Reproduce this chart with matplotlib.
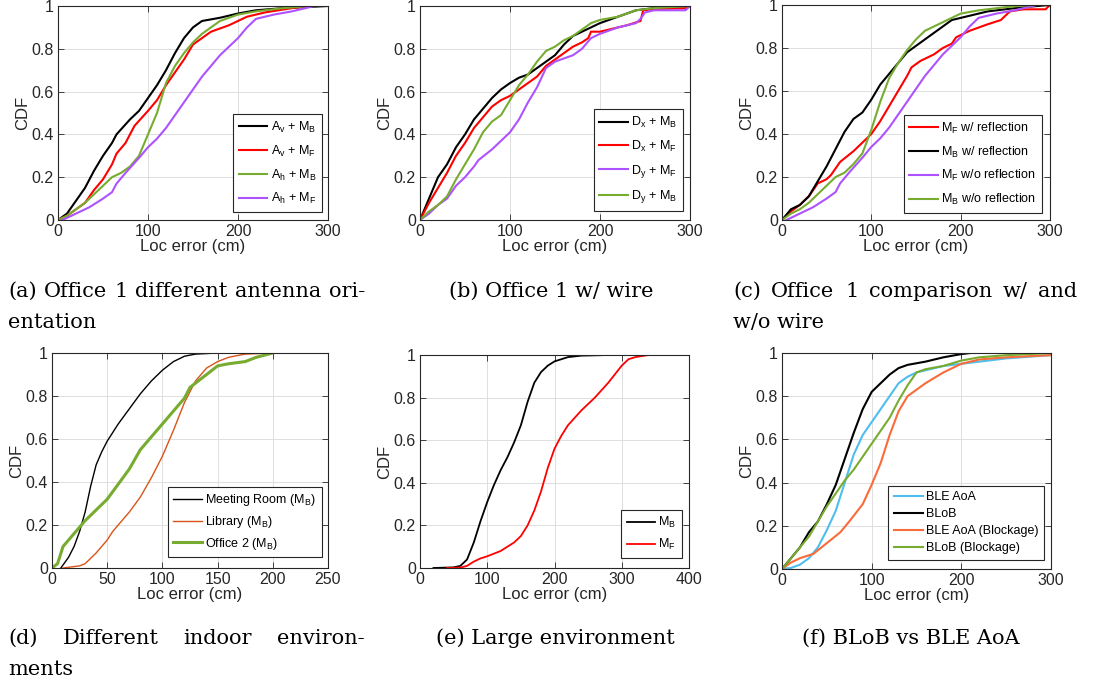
import numpy as np
import matplotlib
matplotlib.use('Agg')
from matplotlib import pyplot as plt

plt.rcParams['font.family'] = ['Liberation Sans', 'DejaVu Sans']
plt.rcParams['mathtext.fontset'] = 'custom'
plt.rcParams['mathtext.rm'] = 'Liberation Sans'
plt.rcParams['mathtext.it'] = 'Liberation Sans:italic'

BLACK = '#000000'
RED = '#FF0000'
GREEN = '#77AC30'
PURPLE = '#AE52FF'
ORANGE_D = '#D95319'
ORANGE_F = '#FA6B3A'
BLUE = '#4DBEEE'

# (a) Office 1 different antenna orientation
a_vb_x = [0, 10, 20, 30, 40, 50, 60, 65, 80, 90, 100, 110, 120, 130, 140, 150, 160, 180, 200, 220, 250, 300]
a_vb_y = [0, 0.03, 0.09, 0.15, 0.23, 0.30, 0.36, 0.40, 0.47, 0.51, 0.57, 0.63, 0.70, 0.78, 0.85, 0.90, 0.93, 0.945, 0.965, 0.98, 0.99, 1.0]
a_vf_x = [0, 10, 20, 30, 40, 50, 60, 65, 75, 85, 100, 110, 120, 130, 140, 150, 160, 170, 190, 200, 210, 230, 260, 280]
a_vf_y = [0, 0.02, 0.05, 0.08, 0.14, 0.19, 0.26, 0.31, 0.36, 0.44, 0.51, 0.56, 0.63, 0.69, 0.75, 0.82, 0.85, 0.88, 0.91, 0.93, 0.95, 0.97, 0.99, 1.0]
a_hb_x = [0, 10, 20, 30, 40, 50, 60, 70, 80, 90, 100, 110, 120, 130, 140, 150, 160, 170, 180, 200, 220, 250, 280]
a_hb_y = [0, 0.02, 0.05, 0.08, 0.12, 0.16, 0.20, 0.22, 0.25, 0.30, 0.40, 0.50, 0.64, 0.72, 0.78, 0.83, 0.87, 0.90, 0.93, 0.96, 0.975, 0.99, 1.0]
a_hf_x = [5, 15, 25, 35, 50, 60, 65, 75, 90, 100, 110, 120, 130, 140, 150, 160, 170, 180, 190, 200, 210, 220, 240, 260, 285]
a_hf_y = [0, 0.02, 0.04, 0.06, 0.10, 0.13, 0.17, 0.22, 0.29, 0.34, 0.38, 0.43, 0.49, 0.55, 0.61, 0.67, 0.72, 0.77, 0.81, 0.85, 0.90, 0.94, 0.96, 0.975, 1.0]

# (b) Office 1 w/ wire
b_xb_x = [0, 10, 20, 30, 40, 50, 60, 70, 80, 90, 100, 110, 120, 130, 140, 150, 160, 170, 180, 190, 200, 220, 240, 260, 300]
b_xb_y = [0, 0.10, 0.20, 0.26, 0.34, 0.40, 0.47, 0.52, 0.57, 0.61, 0.64, 0.665, 0.68, 0.71, 0.74, 0.77, 0.82, 0.86, 0.88, 0.90, 0.92, 0.95, 0.98, 0.99, 1.0]
b_xf_x = [0, 10, 20, 30, 40, 50, 60, 70, 80, 90, 100, 110, 120, 130, 140, 150, 160, 170, 180, 187, 190, 200, 210, 230, 245, 248, 260, 295, 300]
b_xf_y = [0, 0.08, 0.15, 0.22, 0.30, 0.36, 0.43, 0.48, 0.53, 0.56, 0.58, 0.61, 0.64, 0.67, 0.72, 0.75, 0.78, 0.81, 0.83, 0.85, 0.88, 0.88, 0.89, 0.91, 0.93, 0.98, 0.985, 0.99, 1.0]
b_yf_x = [0, 10, 20, 30, 40, 50, 60, 65, 80, 90, 100, 110, 120, 130, 140, 150, 170, 180, 190, 200, 220, 240, 245, 250, 260, 295, 300]
b_yf_y = [0, 0.03, 0.07, 0.10, 0.16, 0.20, 0.25, 0.28, 0.33, 0.37, 0.41, 0.47, 0.55, 0.62, 0.71, 0.74, 0.77, 0.80, 0.85, 0.87, 0.90, 0.92, 0.94, 0.97, 0.98, 0.98, 1.0]
b_yb_x = [0, 10, 20, 30, 40, 50, 60, 70, 80, 90, 100, 110, 120, 130, 140, 150, 160, 170, 180, 190, 200, 220, 240, 260, 300]
b_yb_y = [0, 0.04, 0.07, 0.11, 0.19, 0.26, 0.33, 0.41, 0.46, 0.49, 0.56, 0.63, 0.68, 0.74, 0.79, 0.81, 0.84, 0.86, 0.89, 0.92, 0.935, 0.95, 0.98, 0.99, 1.0]

# (c) Office 1 comparison w/ and w/o wire
c_fw_x = [0, 10, 20, 30, 35, 40, 50, 55, 65, 80, 90, 100, 110, 120, 130, 140, 145, 155, 170, 180, 190, 195, 210, 230, 245, 255, 270, 295, 300]
c_fw_y = [0, 0.04, 0.07, 0.11, 0.14, 0.17, 0.19, 0.21, 0.27, 0.32, 0.36, 0.40, 0.46, 0.53, 0.60, 0.67, 0.71, 0.74, 0.77, 0.80, 0.82, 0.85, 0.88, 0.91, 0.93, 0.97, 0.98, 0.98, 1.0]
c_bw_x = [0, 10, 20, 30, 40, 50, 60, 70, 80, 90, 100, 110, 120, 130, 140, 150, 160, 170, 180, 190, 210, 230, 250, 270, 300]
c_bw_y = [0, 0.05, 0.07, 0.11, 0.18, 0.25, 0.33, 0.41, 0.47, 0.50, 0.56, 0.63, 0.68, 0.73, 0.78, 0.81, 0.84, 0.87, 0.90, 0.93, 0.95, 0.97, 0.98, 0.99, 1.0]
c_fo_x = [5, 15, 25, 35, 50, 60, 65, 75, 90, 100, 110, 120, 130, 140, 150, 160, 170, 180, 190, 200, 210, 220, 240, 260, 285]
c_fo_y = [0, 0.02, 0.04, 0.06, 0.10, 0.13, 0.17, 0.22, 0.29, 0.34, 0.38, 0.43, 0.49, 0.55, 0.61, 0.67, 0.72, 0.77, 0.81, 0.85, 0.90, 0.94, 0.96, 0.975, 1.0]
c_bo_x = [0, 10, 20, 30, 40, 50, 60, 70, 80, 90, 100, 110, 120, 130, 140, 150, 160, 170, 180, 190, 200, 220, 250, 280]
c_bo_y = [0, 0.03, 0.05, 0.08, 0.12, 0.16, 0.20, 0.22, 0.26, 0.31, 0.42, 0.55, 0.66, 0.73, 0.79, 0.84, 0.88, 0.90, 0.92, 0.94, 0.96, 0.975, 0.99, 1.0]

# (d) Different indoor environments
d_meet_x = [8, 15, 20, 25, 30, 35, 40, 45, 50, 60, 70, 80, 90, 100, 110, 120, 130, 150, 180]
d_meet_y = [0, 0.05, 0.10, 0.17, 0.26, 0.38, 0.48, 0.54, 0.59, 0.67, 0.74, 0.81, 0.87, 0.92, 0.96, 0.985, 0.995, 1.0, 1.0]
d_lib_x = [10, 25, 30, 40, 50, 55, 70, 80, 90, 100, 110, 120, 130, 140, 150, 160, 175, 200, 225]
d_lib_y = [0, 0.01, 0.02, 0.07, 0.13, 0.17, 0.26, 0.33, 0.42, 0.52, 0.64, 0.77, 0.87, 0.93, 0.96, 0.98, 0.995, 1.0, 1.0]
d_off_x = [0, 5, 10, 20, 30, 40, 50, 60, 70, 80, 90, 100, 110, 120, 125, 140, 150, 160, 175, 185, 200]
d_off_y = [0, 0.02, 0.10, 0.16, 0.22, 0.27, 0.32, 0.39, 0.46, 0.55, 0.61, 0.67, 0.73, 0.79, 0.84, 0.90, 0.94, 0.95, 0.96, 0.98, 1.0]

# (e) Large environment
e_b_x = [20, 50, 60, 70, 80, 90, 100, 110, 120, 130, 140, 150, 160, 170, 180, 190, 200, 220, 240, 280, 370]
e_b_y = [0, 0.003, 0.01, 0.04, 0.12, 0.22, 0.31, 0.39, 0.46, 0.52, 0.59, 0.67, 0.78, 0.87, 0.92, 0.95, 0.97, 0.99, 0.997, 1.0, 1.0]
e_f_x = [40, 60, 70, 80, 90, 100, 120, 140, 150, 160, 170, 180, 190, 200, 210, 220, 240, 260, 280, 290, 300, 310, 320, 340, 400]
e_f_y = [0, 0.002, 0.01, 0.03, 0.045, 0.055, 0.08, 0.12, 0.15, 0.20, 0.27, 0.36, 0.47, 0.56, 0.62, 0.67, 0.74, 0.80, 0.87, 0.91, 0.95, 0.98, 0.99, 1.0, 1.0]

# (f) BLoB vs BLE AoA
f_ble_x = [0, 10, 20, 30, 40, 50, 60, 70, 80, 90, 100, 110, 120, 130, 140, 150, 160, 180, 200, 220, 250, 300]
f_ble_y = [0, 0.005, 0.02, 0.05, 0.10, 0.18, 0.27, 0.40, 0.53, 0.62, 0.68, 0.74, 0.80, 0.86, 0.89, 0.91, 0.92, 0.94, 0.95, 0.96, 0.975, 0.99]
f_blob_x = [0, 10, 20, 30, 40, 50, 60, 70, 80, 90, 100, 110, 120, 130, 140, 160, 180, 200, 210]
f_blob_y = [0, 0.05, 0.10, 0.17, 0.22, 0.30, 0.39, 0.51, 0.63, 0.74, 0.82, 0.86, 0.90, 0.93, 0.945, 0.96, 0.98, 0.995, 1.0]
f_bleblk_x = [0, 10, 20, 35, 50, 65, 75, 90, 100, 110, 120, 130, 140, 150, 160, 180, 200, 220, 250, 300]
f_bleblk_y = [0, 0.03, 0.05, 0.07, 0.12, 0.17, 0.22, 0.30, 0.39, 0.49, 0.62, 0.73, 0.80, 0.83, 0.86, 0.91, 0.95, 0.97, 0.98, 0.99]
f_blobblk_x = [0, 10, 20, 30, 40, 50, 60, 70, 80, 90, 100, 110, 120, 130, 140, 150, 160, 180, 200, 220, 250, 300]
f_blobblk_y = [0, 0.05, 0.10, 0.15, 0.22, 0.29, 0.35, 0.41, 0.46, 0.52, 0.58, 0.64, 0.70, 0.78, 0.85, 0.91, 0.925, 0.94, 0.965, 0.98, 0.99, 1.0]

yticks = [0, 0.2, 0.4, 0.6, 0.8, 1.0]
ytick_labels = ['0', '0.2', '0.4', '0.6', '0.8', '1']

W, H = 1101, 686
fig = plt.figure(figsize=(W / 100, H / 100), dpi=100)


def make_axes(left, right, top, bottom):
    ax = fig.add_axes([left / W, 1 - bottom / H, (right - left) / W, (bottom - top) / H])
    ax.grid(True, color='#DFDFDF', linewidth=0.7)
    ax.set_axisbelow(True)
    ax.tick_params(direction='in', top=True, right=True, length=4, width=0.6,
                   labelsize=11.5, colors='#262626', pad=3)
    for s in ax.spines.values():
        s.set_color('#262626')
        s.set_linewidth(0.8)
    ax.set_ylim(0, 1)
    ax.set_yticks(yticks)
    ax.set_yticklabels(ytick_labels)
    ax.set_xlabel('Loc error (cm)', fontsize=12, color='#262626', labelpad=0)
    ax.set_ylabel('CDF', fontsize=12, color='#262626', labelpad=1)
    return ax


def add_legend(ax, anchor, spacing=0.45):
    leg = ax.legend(loc='lower right', bbox_to_anchor=anchor, borderaxespad=0,
                    fontsize=9, handlelength=2.3, handletextpad=0.25,
                    labelspacing=spacing, borderpad=0.45, fancybox=False,
                    framealpha=1, edgecolor='#262626')
    leg.get_frame().set_linewidth(0.8)


# (a)
ax = make_axes(58, 328, 6, 220)
ax.plot(a_vb_x, a_vb_y, color=BLACK, lw=1.5, label=r'A$_\mathrm{v}$ + M$_\mathrm{B}$')
ax.plot(a_vf_x, a_vf_y, color=RED, lw=1.5, label=r'A$_\mathrm{v}$ + M$_\mathrm{F}$')
ax.plot(a_hb_x, a_hb_y, color=GREEN, lw=1.5, label=r'A$_\mathrm{h}$ + M$_\mathrm{B}$')
ax.plot(a_hf_x, a_hf_y, color=PURPLE, lw=1.5, label=r'A$_\mathrm{h}$ + M$_\mathrm{F}$')
ax.set_xlim(0, 300)
ax.set_xticks([0, 100, 200, 300])
add_legend(ax, (0.978, 0.037), spacing=0.7)

# (b)
ax = make_axes(420, 690, 6, 220)
ax.plot(b_xb_x, b_xb_y, color=BLACK, lw=1.5, label=r'D$_\mathrm{x}$ + M$_\mathrm{B}$')
ax.plot(b_xf_x, b_xf_y, color=RED, lw=1.5, label=r'D$_\mathrm{x}$ + M$_\mathrm{F}$')
ax.plot(b_yf_x, b_yf_y, color=PURPLE, lw=1.5, label=r'D$_\mathrm{y}$ + M$_\mathrm{F}$')
ax.plot(b_yb_x, b_yb_y, color=GREEN, lw=1.5, label=r'D$_\mathrm{y}$ + M$_\mathrm{B}$')
ax.set_xlim(0, 300)
ax.set_xticks([0, 100, 200, 300])
add_legend(ax, (0.974, 0.042), spacing=0.7)

# (c)
ax = make_axes(782, 1050, 5, 220)
ax.plot(c_fw_x, c_fw_y, color=RED, lw=1.5, label=r'M$_\mathrm{F}$ w/ reflection')
ax.plot(c_bw_x, c_bw_y, color=BLACK, lw=1.5, label=r'M$_\mathrm{B}$ w/ reflection')
ax.plot(c_fo_x, c_fo_y, color=PURPLE, lw=1.5, label=r'M$_\mathrm{F}$ w/o reflection')
ax.plot(c_bo_x, c_bo_y, color=GREEN, lw=1.5, label=r'M$_\mathrm{B}$ w/o reflection')
ax.set_xlim(0, 300)
ax.set_xticks([0, 100, 200, 300])
add_legend(ax, (0.97, 0.033), spacing=0.7)

# (d)
ax = make_axes(52, 328, 353, 568)
ax.plot(d_meet_x, d_meet_y, color=BLACK, lw=1.0, label=r'Meeting Room (M$_\mathrm{B}$)')
ax.plot(d_lib_x, d_lib_y, color=ORANGE_D, lw=1.0, label=r'Library (M$_\mathrm{B}$)')
ax.plot(d_off_x, d_off_y, color=GREEN, lw=2.2, label=r'Office 2 (M$_\mathrm{B}$)')
ax.set_xlim(0, 250)
ax.set_xticks([0, 50, 100, 150, 200, 250])
add_legend(ax, (0.978, 0.05), spacing=0.45)

# (e)
ax = make_axes(420, 689, 355, 568)
ax.plot(e_b_x, e_b_y, color=BLACK, lw=1.3, label=r'M$_\mathrm{B}$')
ax.plot(e_f_x, e_f_y, color=RED, lw=1.3, label=r'M$_\mathrm{F}$')
ax.set_xlim(0, 400)
ax.set_xticks([0, 100, 200, 300, 400])
add_legend(ax, (0.974, 0.047), spacing=0.55)

# (f)
ax = make_axes(782, 1051, 353, 569)
ax.plot(f_ble_x, f_ble_y, color=BLUE, lw=1.5, label='BLE AoA')
ax.plot(f_blob_x, f_blob_y, color=BLACK, lw=1.5, label='BLoB')
ax.plot(f_bleblk_x, f_bleblk_y, color=ORANGE_F, lw=1.5, label='BLE AoA (Blockage)')
ax.plot(f_blobblk_x, f_blobblk_y, color=GREEN, lw=1.5, label='BLoB (Blockage)')
ax.set_xlim(0, 300)
ax.set_xticks([0, 100, 200, 300])
add_legend(ax, (0.974, 0.042), spacing=0.4)

# captions
CAP = dict(fontsize=15, family='DejaVu Serif', color='#000000', va='baseline')
renderer = fig.canvas.get_renderer()


def caption(text, x, y, ha='left'):
    fig.text(x / W, 1 - y / H, text, ha=ha, **CAP)


def justified(words, x0, x1, y):
    texts = [fig.text(0, 1 - y / H, w, ha='left', **CAP) for w in words]
    widths = [t.get_window_extent(renderer).width for t in texts]
    gap = (x1 - x0 - sum(widths)) / (len(words) - 1)
    x = x0
    for t, w in zip(texts, widths):
        t.set_x(x / W)
        x += w + gap


justified(['(a)', 'Office', '1', 'different', 'antenna', 'ori-'], 8, 365, 297)
caption('entation', 8, 328)
caption('(b) Office 1 w/ wire', 551, 297, ha='center')
justified(['(c)', 'Office', '1', 'comparison', 'w/', 'and'], 733, 1077, 297)
caption('w/o wire', 733, 328)
justified(['(d)', 'Different', 'indoor', 'environ-'], 8, 365, 644)
caption('ments', 8, 675)
caption('(e) Large environment', 555, 644, ha='center')
caption('(f) BLoB vs BLE AoA', 911, 644, ha='center')

fig.savefig('out.png', dpi=100)
